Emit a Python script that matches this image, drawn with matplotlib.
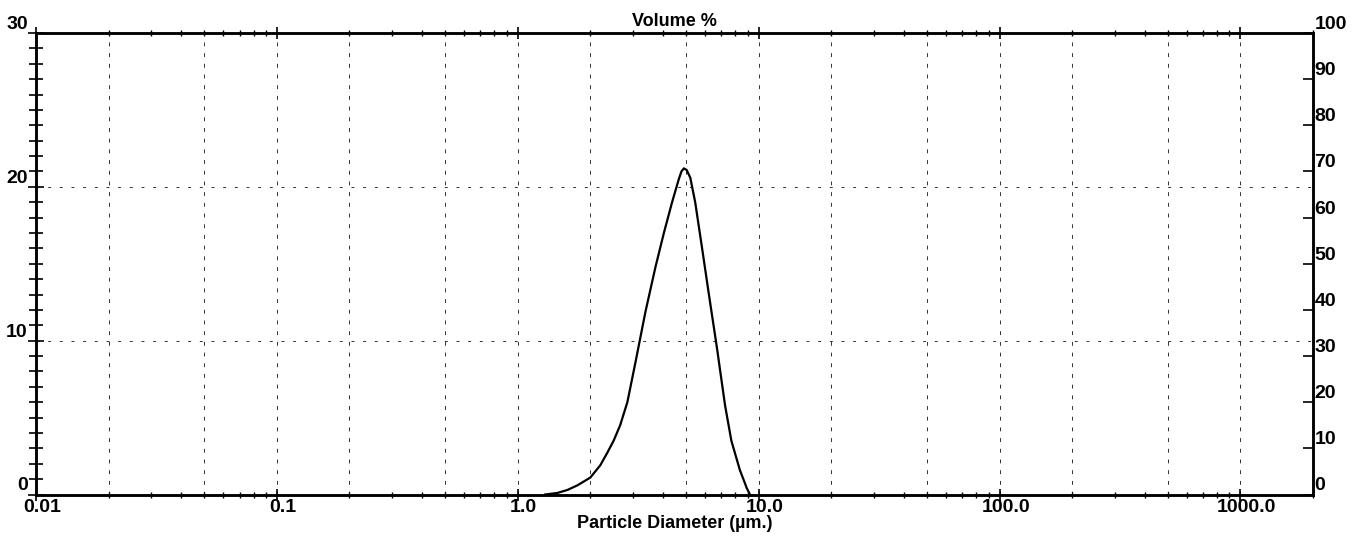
import numpy as np
import matplotlib
matplotlib.use('Agg')
import matplotlib.pyplot as plt
import matplotlib.transforms as mtransforms
from matplotlib.ticker import FixedLocator, FixedFormatter, MultipleLocator, NullFormatter

plt.rcParams['font.family'] = ['Liberation Sans', 'DejaVu Sans']

# particle size distribution
diameter = [1.30, 1.46, 1.61, 1.77, 2.00, 2.20, 2.35, 2.50, 2.66, 2.85, 3.08,
            3.39, 3.73, 4.04, 4.37, 4.66, 4.78, 4.89, 5.02, 5.20, 5.45, 5.81,
            6.20, 6.70, 7.25, 7.70, 8.35, 8.93, 9.20]
volume = [0.0, 0.1, 0.3, 0.6, 1.1, 1.9, 2.7, 3.5, 4.5, 6.0, 8.6,
          11.9, 14.8, 17.0, 19.0, 20.5, 21.0, 21.2, 21.1, 20.6, 19.0, 16.1,
          13.1, 9.6, 5.8, 3.5, 1.6, 0.4, 0.0]

x_major = [0.01, 0.1, 1, 10, 100, 1000]
x_labels = ['0.01', '0.1', '1.0', '10.0', '100.0', '1000.0']
grid_x = [0.02, 0.05, 0.1, 0.2, 0.5, 1, 2, 5, 10, 20, 50, 100, 200, 500, 1000]
grid_y = [10, 20]
left_ticks = [0, 10, 20, 30]
right_ticks = list(range(0, 101, 10))

fig = plt.figure(figsize=(13.52, 5.38), dpi=100)
ax = fig.add_axes([36 / 1352, 43.5 / 538, (1313 - 36) / 1352, (494.5 - 33) / 538])

ax.set_xscale('log')
ax.set_xlim(0.01, 2000)
ax.set_ylim(0, 30)

for gx in grid_x:
    ax.axvline(gx, color='#333333', lw=0.7, ls=(0, (4, 7)), zorder=1)
for gy in grid_y:
    ax.axhline(gy, color='#333333', lw=0.7, ls=(0, (3, 9)), zorder=1)

ax.plot(diameter, volume, color='black', lw=1.6, zorder=3)

for s in ax.spines.values():
    s.set_linewidth(1.8)

ax.xaxis.set_major_locator(FixedLocator(x_major))
ax.xaxis.set_major_formatter(FixedFormatter(x_labels))
ax.xaxis.set_minor_formatter(NullFormatter())
ax.tick_params(axis='x', which='both', direction='inout', top=True, pad=-1,
               labelsize=14)
ax.tick_params(axis='x', which='major', length=9, width=1.2)
ax.tick_params(axis='x', which='minor', length=5, width=1.0)
shift = mtransforms.ScaledTranslation(6 / 100, 0, fig.dpi_scale_trans)
for lab in ax.get_xticklabels():
    lab.set_fontweight('bold')
    lab.set_transform(lab.get_transform() + shift)

ax.yaxis.set_major_locator(FixedLocator(left_ticks))
ax.yaxis.set_minor_locator(MultipleLocator(1))
ax.tick_params(axis='y', which='both', direction='inout', pad=0, labelsize=14)
ax.tick_params(axis='y', which='major', length=12, width=1.2)
ax.tick_params(axis='y', which='minor', length=10, width=1.2)
for lab in ax.get_yticklabels():
    lab.set_fontweight('bold')
    lab.set_verticalalignment('bottom')

ax2 = ax.twinx()
ax2.set_ylim(0, 100)
ax2.set_yticks(right_ticks)
ax2.tick_params(axis='y', direction='in', length=7, width=1.2, pad=1, labelsize=14)
for lab in ax2.get_yticklabels():
    lab.set_fontweight('bold')
    lab.set_verticalalignment('bottom')
for s in ax2.spines.values():
    s.set_linewidth(1.8)

ax.set_title('Volume %', fontsize=13, fontweight='bold', pad=5)
ax.set_xlabel('Particle Diameter (µm.)', fontsize=13, fontweight='bold', labelpad=-1)

fig.savefig('out.png', dpi=100)
